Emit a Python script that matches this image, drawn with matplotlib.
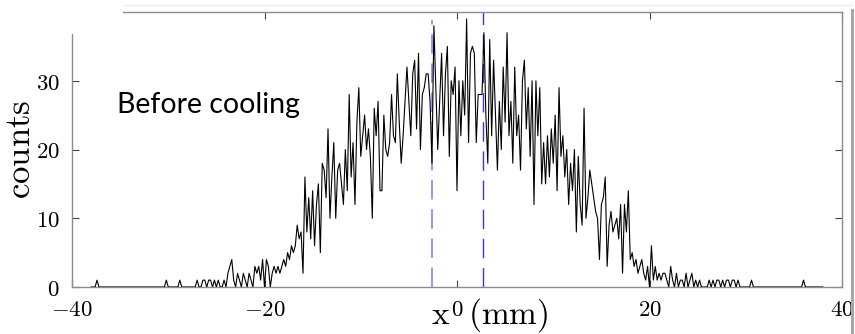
import numpy as np
import matplotlib
matplotlib.use("Agg")
import matplotlib.pyplot as plt
from matplotlib.patches import Rectangle
from matplotlib.lines import Line2D

# histogram of x position (mm), 0.2 mm bins
BIN_WIDTH = 0.2
X_FIRST = -38.0
X_LAST = 38.0
CORE_START = -27.0
core_counts = [
    1, 0, 0, 1, 1, 0, 1, 1, 0, 1,        # -27.0
    0, 1, 0, 0, 1, 0, 2, 3, 4, 1,        # -25.0
    0, 2, 1, 0, 2, 1, 0, 2, 1, 0,        # -23.0
    3, 2, 3, 1, 4, 0, 4, 3, 0, 2,        # -21.0
    3, 2, 3, 2, 3, 4, 3, 5, 4, 6,        # -19.0
    5, 6, 9, 7, 8, 2, 16, 8, 13, 7,      # -17.0
    14, 6, 12, 15, 5, 18, 17, 13, 23, 10,  # -15.0
    16, 21, 10, 17, 18, 15, 12, 20, 14, 28,  # -13.0
    16, 21, 12, 24, 29, 19, 22, 25, 20, 23,  # -11.0
    19, 10, 26, 22, 27, 14, 14, 25, 20, 19,  # -9.0
    21, 28, 22, 21, 31, 24, 18, 22, 27, 32,  # -7.0
    27, 22, 31, 33, 23, 34, 20, 28, 29, 31,  # -5.0
    31, 27, 18, 38, 29, 20, 27, 34, 22, 31,  # -3.0
    35, 19, 30, 28, 32, 14, 30, 22, 30, 25,  # -1.0
    39, 21, 34, 35, 34, 21, 28, 28, 28, 37,  # 1.0
    25, 18, 36, 22, 33, 25, 17, 27, 20, 32,  # 3.0
    24, 37, 22, 27, 18, 32, 22, 25, 17, 30,  # 5.0
    33, 23, 29, 19, 30, 12, 30, 22, 29, 15,  # 7.0
    21, 15, 22, 16, 23, 18, 25, 14, 29, 19,  # 9.0
    22, 16, 20, 12, 18, 14, 20, 8, 19, 12,   # 11.0
    9, 26, 10, 13, 17, 15, 13, 11, 10, 4,    # 13.0
    12, 13, 16, 3, 9, 11, 8, 9, 10, 7,       # 15.0
    12, 2, 12, 8, 14, 4, 5, 3, 4, 2,         # 17.0
    3, 4, 2, 1, 3, 0, 6, 1, 3, 1,            # 19.0
    2, 1, 2, 2, 1, 0, 3, 1, 0, 2,            # 21.0
    0, 1, 1, 0, 2, 0, 1, 2, 0, 1,            # 23.0
    0, 1, 0, 0, 0, 0, 1, 0, 1, 0,            # 25.0
    1, 1, 0, 1, 0, 1, 1, 0, 1, 1,            # 27.0
    0, 1, 0, 0, 0, 0, 0, 0, 1, 0,            # 29.0
]
isolated_x = [-37.4, -30.2, -28.8, 36.0]
isolated_counts = [1, 1, 1, 1]

marker_left = -2.55
marker_right = 2.7

x_ticks = [-40, -20, 0, 20, 40]
x_tick_labels = ["$-40$", "$-20$", "$0$", "$20$", "$40$"]
y_ticks = [0, 10, 20, 30]
y_tick_labels = ["$0$", "$10$", "$20$", "$30$"]

plt.rcParams["mathtext.fontset"] = "cm"
plt.rcParams["lines.scale_dashes"] = False

x = np.round(np.arange(X_FIRST, X_LAST + BIN_WIDTH / 2, BIN_WIDTH), 1)
counts = np.zeros_like(x)
i0 = int(round((CORE_START - X_FIRST) / BIN_WIDTH))
counts[i0:i0 + len(core_counts)] = core_counts
for xs, c in zip(isolated_x, isolated_counts):
    counts[int(round((xs - X_FIRST) / BIN_WIDTH))] = c

W, H = 855, 334
fig = plt.figure(figsize=(W / 100, H / 100), dpi=100)
ax = fig.add_axes([72 / W, 47 / H, 770 / W, 275 / H])

ax.plot(x, counts, color="black", lw=0.8, zorder=3)
ax.axvline(marker_left, ymin=0, ymax=38.8 / 40, color="#8c8cff",
           lw=1.3, dashes=(14, 7), zorder=2)
ax.axvline(marker_right, ymin=0, ymax=1, color="#3535ff",
           lw=1.0, dashes=(14, 7), zorder=2)

ax.set_xlim(-40, 40)
ax.set_ylim(0, 40)
ax.set_xticks(x_ticks)
ax.set_xticklabels(x_tick_labels)
ax.set_yticks(y_ticks)
ax.set_yticklabels(y_tick_labels)
ax.tick_params(axis="both", direction="in", length=5, width=0.8,
               color="#444444", labelsize=16.5, top=True, right=True)
ax.tick_params(axis="x", pad=8)
ax.tick_params(axis="y", pad=9)
for sp in ax.spines.values():
    sp.set_color("#8c8c8c")
    sp.set_linewidth(1.0)

ax.set_ylabel(r"$\mathrm{counts}$", fontsize=25, va="center")
ax.yaxis.set_label_coords(-0.0675, 0.5)
ax.set_xlabel(r"$\mathrm{x}\ \ (\mathrm{mm})$", fontsize=24,
              ha="left", va="baseline")
ax.xaxis.set_label_coords((431 - 72) / 770, -37 / 275)

ax.text(0.0584, 0.633, "Before cooling", transform=ax.transAxes,
        fontsize=20.5, family="Lato", va="baseline", ha="left")

# the slide crops the upper-left corner of the frame
fig.add_artist(Rectangle((0, 1 - 34 / H), 123 / W, 34 / H,
                         transform=fig.transFigure, facecolor="white",
                         edgecolor="none", zorder=10))
fig.add_artist(Line2D([852 / W, 852 / W], [0, 1 - 10 / H],
                      transform=fig.transFigure, color="#a8a8a8", lw=2.2,
                      zorder=10))
fig.add_artist(Line2D([124 / W, 852 / W], [1 - 4.5 / H, 1 - 4.5 / H],
                      transform=fig.transFigure, color="#eeeeee", lw=1.0,
                      zorder=10))

fig.savefig("out.png", dpi=100)
